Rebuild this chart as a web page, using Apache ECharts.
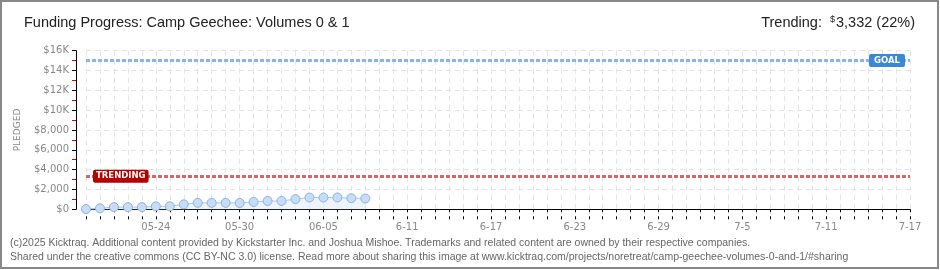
<!DOCTYPE html>
<html>
<head>
<meta charset="utf-8">
<script src="https://cdn.jsdelivr.net/npm/echarts@6/dist/echarts.min.js"></script>
<style>html,body{margin:0;padding:0;background:#fff}#c{width:940px;height:270px}</style>
</head>
<body>
<div id="c"></div>
<script>
// ---- data ----
const categories = (function(){
  const out = [];
  const d = new Date(Date.UTC(2025, 4, 19));
  for (let i = 0; i < 60; i++) {
    const m = d.getUTCMonth() + 1, day = d.getUTCDate();
    out.push(String(m).padStart(2,'0') + '-' + String(day).padStart(2,'0'));
    d.setUTCDate(d.getUTCDate() + 1);
  }
  return out;
})();
const xTickLabels = ['05-24','05-30','06-05','6-11','6-17','6-23','6-29','7-5','7-11','7-17'];
const pledged = [20, 100, 220, 220, 220, 300, 300, 500, 650, 650, 650, 640, 740, 840, 840, 1030, 1190, 1190, 1190, 1120, 1090];
const goal = 15000;
const trending = 3332;

const chart = echarts.init(document.getElementById('c'));
const firstLabelIdx = categories.indexOf('05-24');
function showLabel(i){ return i >= firstLabelIdx && (i - firstLabelIdx) % 6 === 0; }
const titleFont = 'Liberation Sans';

const option = {
  animation: false,
  backgroundColor: '#fff',
  title: [
    { text: 'Funding Progress: Camp Geechee: Volumes 0 & 1', left: 19, top: 10,
      textStyle: { fontFamily: titleFont, fontSize: 14.5, fontWeight: 'normal', color: '#222' } },
    { text: '{a|Trending:  }{s|$}{a|3,332 (22%)}', right: 20, top: 10,
      textStyle: { fontWeight: 'normal', rich: {
        a: { fontFamily: titleFont, fontSize: 14.5, fontWeight: 'normal', color: '#222' },
        s: { fontFamily: titleFont, fontSize: 9, fontWeight: 'normal', color: '#222', verticalAlign: 'top', padding: [0,1,6,0] }
      } } }
  ],
  grid: { left: 86, right: 30, top: 50.7, bottom: 60.7 },
  xAxis: [
    {
      type: 'category', data: categories, boundaryGap: false, position: 'bottom', offset: 10,
      axisLine: { lineStyle: { color: '#000', width: 1 } },
      axisTick: { show: true, interval: 0, length: 3, lineStyle: { color: '#000' } },
      axisLabel: { interval: 0, margin: 3, fontSize: 10, color: '#888', fontFamily: 'DejaVu Sans',
        formatter: function(v, i){ return showLabel(i) ? xTickLabels[(i - firstLabelIdx) / 6] : ''; } },
      splitLine: { show: true, interval: 0, lineStyle: { color: '#e4e4e4', type: [5, 4] } }
    },
    {
      type: 'category', data: categories, boundaryGap: false, position: 'bottom', offset: 10,
      axisLine: { show: false },
      axisTick: { show: true, inside: true, interval: 0, length: 3, lineStyle: { color: '#000' } },
      axisLabel: { show: false }, splitLine: { show: false }
    }
  ],
  yAxis: {
    type: 'value', min: 0, max: 16000, interval: 2000, offset: 10,
    name: 'PLEDGED', nameLocation: 'middle', nameGap: 54,
    nameTextStyle: { color: '#888', fontSize: 9, fontFamily: 'DejaVu Sans' },
    axisLine: { show: true, lineStyle: { color: '#000' } },
    axisTick: { show: true, length: 4, lineStyle: { color: '#000' } },
    minorTick: { show: true, splitNumber: 2, length: 4, lineStyle: { color: '#e00000' } },
    axisLabel: { margin: 7, fontSize: 10, color: '#888', fontFamily: 'DejaVu Sans',
      formatter: function(v){ return v >= 10000 ? '$' + (v/1000) + 'K' : '$' + v.toLocaleString('en-US'); } },
    splitLine: { show: true, lineStyle: { color: '#e4e4e4', type: [5, 4] } }
  },
  series: [{
    type: 'line', data: pledged, xAxisIndex: 0,
    symbol: 'circle', symbolSize: 9,
    lineStyle: { color: '#a9c9ee', width: 1 },
    itemStyle: { color: '#c5ddf7', borderColor: '#8fb2dc', borderWidth: 1 },
    areaStyle: { color: '#e6effa' },
    markLine: {
      silent: true, symbol: ['none', 'none'],
      data: [
        { yAxis: goal, lineStyle: { color: '#8db5e3', width: 3, type: [4, 2] },
          label: { show: true, position: 'insideEnd', distance: 5, formatter: 'GOAL',
            color: '#fff', backgroundColor: '#3a86d8', fontFamily: 'DejaVu Sans', fontWeight: 'bold',
            fontSize: 8.5, padding: [2, 5, 2, 5], borderRadius: 2 } },
        { yAxis: trending, lineStyle: { color: '#d26868', width: 3, type: [4, 2] },
          label: { show: true, position: 'insideStart', distance: 7, formatter: 'TRENDING',
            color: '#fff', backgroundColor: '#b40000', fontFamily: 'DejaVu Sans', fontWeight: 'bold',
            fontSize: 8.5, padding: [2, 3, 2, 3], borderRadius: 2 } }
      ]
    }
  }],
  graphic: [
    { type: 'rect', shape: { x: 1, y: 1, width: 937, height: 267 }, style: { fill: 'none', stroke: '#888', lineWidth: 2 }, silent: true },
    { type: 'text', left: 10, top: 238, style: { text: '(c)2025 Kicktraq. Additional content provided by Kickstarter Inc. and Joshua Mishoe. Trademarks and related content are owned by their respective companies.', fill: '#666', font: '10.5px "Liberation Sans"' } },
    { type: 'text', left: 10, top: 252, style: { text: 'Shared under the creative commons (CC BY-NC 3.0) license. Read more about sharing this image at www.kicktraq.com/projects/noretreat/camp-geechee-volumes-0-and-1/#sharing', fill: '#666', font: '10.5px "Liberation Sans"' } }
  ]
};
chart.setOption(option);
</script>
</body>
</html>
